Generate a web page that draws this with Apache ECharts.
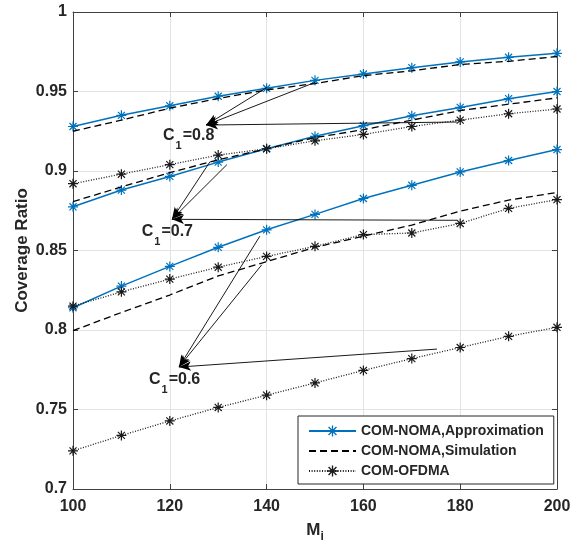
<!DOCTYPE html>
<html>
<head>
<meta charset="utf-8">
<script src="https://cdn.jsdelivr.net/npm/echarts@6/dist/echarts.min.js"></script>
<style>
  html, body { margin: 0; padding: 0; background: #fff; }
  #chart { width: 579px; height: 548px; }
</style>
</head>
<body>
<div id="chart"></div>
<script>
// M_i values on the x axis
var mValues = [100, 110, 120, 130, 140, 150, 160, 170, 180, 190, 200];

// coverage ratio, one array per curve
var approx08 = [0.928, 0.935, 0.941, 0.947, 0.952, 0.957, 0.961, 0.965, 0.9686, 0.9715, 0.974];
var sim08    = [0.925, 0.932, 0.9395, 0.9456, 0.951, 0.955, 0.960, 0.963, 0.967, 0.969, 0.972];
var ofdma08  = [0.892, 0.898, 0.904, 0.910, 0.914, 0.919, 0.923, 0.928, 0.932, 0.936, 0.939];

var approx07 = [0.8775, 0.888, 0.8966, 0.9056, 0.914, 0.9218, 0.9285, 0.9347, 0.940, 0.9455, 0.950];
var sim07    = [0.8807, 0.890, 0.899, 0.907, 0.914, 0.921, 0.926, 0.932, 0.938, 0.942, 0.946];
var ofdma07  = [0.815, 0.824, 0.832, 0.8395, 0.8463, 0.8526, 0.860, 0.861, 0.867, 0.8765, 0.882];

var approx06 = [0.814, 0.8276, 0.840, 0.852, 0.863, 0.8727, 0.8827, 0.891, 0.8994, 0.9066, 0.9135];
var sim06    = [0.7996, 0.811, 0.822, 0.834, 0.843, 0.852, 0.859, 0.866, 0.8748, 0.8817, 0.8865];
var ofdma06  = [0.724, 0.7337, 0.7428, 0.7513, 0.759, 0.7667, 0.7746, 0.782, 0.789, 0.796, 0.8017];

var legendNames = ['COM-NOMA,Approximation', 'COM-NOMA,Simulation', 'COM-OFDMA'];

// annotation arrows: [tail, head] in data coords, and C1 labels
var arrows = [
  [[140.1, 0.9526], [127.5, 0.9289]],
  [[150.0, 0.9557], [127.5, 0.9289]],
  [[179.3, 0.9308], [127.5, 0.9289]],
  [[128.3, 0.9058], [120.45, 0.8696]],
  [[131.8, 0.9040], [120.45, 0.8696]],
  [[179.3, 0.8690], [120.45, 0.8696]],
  [[138.6, 0.859], [121.9, 0.7767]],
  [[139.0, 0.841], [121.9, 0.7767]],
  [[175.2, 0.788], [121.9, 0.7767]]
];
var c1Labels = ['0.8', '0.7', '0.6'];
var c1LabelPos = [[118.6, 0.9185], [114.2, 0.8583], [115.7, 0.7648]];

var textColor = '#262626';
var font = 'Liberation Sans, Arial, Helvetica, sans-serif';
var star = 'path://M44,0L56,0L56,100L44,100Z M0,44L100,44L100,56L0,56Z ' +
  'M19,10.5L89.5,81L81,89.5L10.5,19Z M89.5,19L19,89.5L10.5,81L81,10.5Z';

function pairs(ys) {
  return mValues.map(function (m, i) { return [m, ys[i]]; });
}

function approxSeries(ys) {
  return {
    name: legendNames[0], type: 'line', data: pairs(ys),
    symbol: star, symbolSize: 10,
    itemStyle: { color: '#0072BD' },
    lineStyle: { color: '#0072BD', width: 1.5 },
    z: 2
  };
}
function simSeries(ys) {
  return {
    name: legendNames[1], type: 'line', data: pairs(ys),
    symbol: 'none', showSymbol: false,
    itemStyle: { color: '#000' },
    lineStyle: { color: '#000', width: 1.3, type: [7, 4] },
    z: 3
  };
}
function ofdmaSeries(ys) {
  return {
    name: legendNames[2], type: 'line', data: pairs(ys),
    symbol: star, symbolSize: 10,
    itemStyle: { color: '#1a1a1a' },
    lineStyle: { color: '#1a1a1a', width: 1.3, type: [1, 1.6] },
    z: 4
  };
}

var arrowData = arrows.map(function (a) {
  return [{ coord: a[0], symbol: 'none' }, { coord: a[1], symbol: 'arrow', symbolSize: [7, 12] }];
});
var labelData = c1LabelPos.map(function (p, i) {
  return {
    coord: p,
    symbol: 'circle', symbolSize: 0,
    label: {
      show: true, position: [0, 0], align: 'left', verticalAlign: 'middle',
      formatter: '{c|C}{s|1}{c|=' + c1Labels[i] + '}',
      rich: {
        c: { fontSize: 16, fontWeight: 'bold', fontFamily: font, color: textColor, lineHeight: 20, padding: [0, 0, 8, 0], verticalAlign: 'bottom' },
        s: { fontSize: 11, fontWeight: 'bold', fontFamily: font, color: textColor, lineHeight: 13, padding: [0, 1, 0, 1], verticalAlign: 'bottom' }
      }
    }
  };
});

var series = [
  approxSeries(approx08), approxSeries(approx07), approxSeries(approx06),
  simSeries(sim08), simSeries(sim07), simSeries(sim06),
  ofdmaSeries(ofdma08), ofdmaSeries(ofdma07), ofdmaSeries(ofdma06),
  {
    name: 'annotations', type: 'line', data: [], silent: true,
    markLine: {
      silent: true, animation: false,
      lineStyle: { color: '#000', width: 0.9, type: 'solid' },
      label: { show: false },
      data: arrowData
    },
    markPoint: {
      silent: true, animation: false,
      data: labelData
    }
  }
];

var chart = echarts.init(document.getElementById('chart'));
chart.setOption({
  animation: false,
  backgroundColor: '#fff',
  grid: { left: 73, right: 22, top: 12, bottom: 55 },
  legend: {
    data: [
      { name: legendNames[0] },
      { name: legendNames[1], itemStyle: { opacity: 0 } },
      { name: legendNames[2] }
    ],
    orient: 'vertical',
    left: 298, top: 416,
    itemWidth: 47, itemHeight: 14, itemGap: 6,
    padding: [8, 10, 6, 10],
    borderColor: textColor, borderWidth: 1, borderRadius: 0,
    backgroundColor: '#fff',
    textStyle: { fontSize: 14, fontWeight: 'bold', fontFamily: font, color: textColor }
  },
  xAxis: [{
    type: 'value', min: 100, max: 200, interval: 20,
    name: '{m|M}{s|i}', nameLocation: 'middle', nameGap: 34,
    nameTextStyle: {
      rich: {
        m: { fontSize: 17, fontWeight: 'bold', fontFamily: font, color: textColor, lineHeight: 20, padding: [0, 0, 4, 0], verticalAlign: 'bottom' },
        s: { fontSize: 12, fontWeight: 'bold', fontFamily: font, color: textColor, lineHeight: 12, verticalAlign: 'bottom' }
      }
    },
    axisLine: { lineStyle: { color: '#404040', width: 1 } },
    axisTick: { inside: true, length: 5, lineStyle: { color: '#404040' } },
    axisLabel: { fontSize: 16, fontWeight: 'bold', fontFamily: font, color: textColor, margin: 10 },
    splitLine: { show: true, lineStyle: { color: '#e3e3e3', width: 1 } }
  }, {
    type: 'value', position: 'top', min: 100, max: 200, interval: 20,
    axisLine: { show: true, onZero: false, lineStyle: { color: '#404040', width: 1 } },
    axisTick: { inside: true, length: 5, lineStyle: { color: '#404040' } },
    axisLabel: { show: false },
    splitLine: { show: false }
  }],
  yAxis: [{
    type: 'value', min: 0.7, max: 1, interval: 0.05,
    name: 'Coverage Ratio', nameLocation: 'middle', nameGap: 42, nameMoveOverlap: false,
    nameTextStyle: { fontSize: 17, fontWeight: 'bold', fontFamily: font, color: textColor },
    axisLine: { show: true, lineStyle: { color: '#404040', width: 1 } },
    axisTick: { show: true, inside: true, length: 5, lineStyle: { color: '#404040' } },
    axisLabel: {
      fontSize: 16, fontWeight: 'bold', fontFamily: font, color: textColor, margin: 6,
      formatter: function (v) { return String(parseFloat(v.toFixed(2))); }
    },
    splitLine: { show: true, lineStyle: { color: '#e3e3e3', width: 1 } }
  }, {
    type: 'value', position: 'right', min: 0.7, max: 1, interval: 0.05,
    axisLine: { show: true, onZero: false, lineStyle: { color: '#404040', width: 1 } },
    axisTick: { show: true, inside: true, length: 5, lineStyle: { color: '#404040' } },
    axisLabel: { show: false },
    splitLine: { show: false }
  }],
  series: series
});
</script>
</body>
</html>
